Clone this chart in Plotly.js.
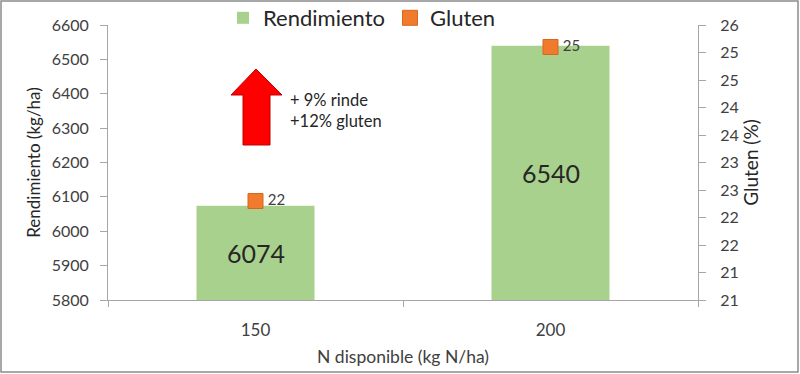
<!DOCTYPE html>
<html><head><meta charset="utf-8">
<script src="https://cdn.plot.ly/plotly-3.0.1.min.js"></script>
<style>html,body{margin:0;padding:0;background:#fff}#c{width:800px;height:374px}</style>
</head><body><div id="c"></div>
<script>
const categories = ['150', '200'];
const rendimiento = [6074, 6540];
const gluten = [22.3, 25.1];
const glutenLabels = ['22', '25'];
const glutenTickVals = [20.5, 21, 21.5, 22, 22.5, 23, 23.5, 24, 24.5, 25, 25.5];
const glutenTickText = ['21', '21', '22', '22', '23', '23', '24', '24', '25', '25', '26'];
const leftTickVals = [5800, 5900, 6000, 6100, 6200, 6300, 6400, 6500, 6600];
const noteLines = ['+ 9% rinde', '+12% gluten'];

const F = 'Lato, "Open Sans", sans-serif';
const TXT = '#404040';
const Y0 = 5800, Y1 = 6600;

const L = 108, R = 698, T = 25, B = 300;
const px = x => (x - L) / (R - L);
const py = y => (B - y) / (B - T);

const traces = [
  {
    type: 'bar', name: 'Rendimiento', x: categories, y: rendimiento,
    marker: {color: '#A9D18E'},
    hoverinfo: 'none'
  },
  {
    type: 'scatter', mode: 'markers+text', name: 'Gluten', x: categories, y: gluten,
    yaxis: 'y2',
    marker: {symbol: 'square', size: 15, color: '#F07B2C', line: {color: '#D9661E', width: 1}},
    text: glutenLabels.map(t => '\u2009' + t), textposition: 'middle right',
    textfont: {family: F, size: 15, color: '#404040'},
    hoverinfo: 'none'
  }
];

const arrowPath = [
  [px(256), py(69)], [px(282), py(95)], [px(270), py(95)], [px(270), py(145)],
  [px(243), py(145)], [px(243), py(95)], [px(231), py(95)]
].map((p, i) => (i ? 'L' : 'M') + p[0] + ',' + p[1]).join(' ') + ' Z';

const barLabels = categories.map((c, i) => ({
  x: i, y: (Y0 + rendimiento[i]) / 2, xref: 'x', yref: 'y', showarrow: false,
  text: String(rendimiento[i]), font: {family: F, size: 25, color: '#262626'}
}));

const layout = {
  width: 800, height: 374,
  margin: {l: L, r: 800 - R, t: T, b: 374 - B, autoexpand: false},
  paper_bgcolor: '#fff', plot_bgcolor: '#fff',
  font: {family: F, color: TXT, size: 15},
  showlegend: true,
  legend: {orientation: 'h', x: px(362), xanchor: 'center', y: py(18), yanchor: 'middle',
           font: {family: F, size: 22, color: '#262626'}, itemwidth: 30, tracegroupgap: 0,
           bgcolor: 'rgba(0,0,0,0)'},
  bargap: 0.6,
  xaxis: {
    type: 'category', categoryorder: 'array', categoryarray: categories,
    range: [-0.5, categories.length - 0.5], autorange: false,
    showline: true, linecolor: '#A6A6A6', linewidth: 1,
    ticks: 'outside', ticklen: 6, tickcolor: '#A6A6A6', tickson: 'boundaries',
    ticklabelstandoff: 15, tickangle: 0,
    tickfont: {family: F, size: 17, color: TXT},
    showgrid: false, zeroline: false,
    title: {text: 'N disponible (kg N/ha)', font: {family: F, size: 17.5, color: TXT}, standoff: 11}
  },
  yaxis: {
    range: [Y0, Y1], tickvals: leftTickVals,
    showline: true, linecolor: '#A6A6A6', linewidth: 1,
    ticks: 'outside', ticklen: 7, tickcolor: '#A6A6A6', ticklabelstandoff: 8,
    tickfont: {family: F, size: 16, color: TXT},
    showgrid: false, zeroline: false,
    title: {text: 'Rendimiento (kg/ha)', font: {family: F, size: 17, color: '#262626'}, standoff: 6}
  },
  yaxis2: {
    overlaying: 'y', side: 'right', range: [20.5, 25.5],
    tickvals: glutenTickVals, ticktext: glutenTickText,
    showline: true, linecolor: '#A6A6A6', linewidth: 1,
    ticks: 'outside', ticklen: 7, tickcolor: '#A6A6A6', ticklabelstandoff: 11,
    tickfont: {family: F, size: 16, color: TXT},
    showgrid: false, zeroline: false,
    title: {text: 'Gluten (%)', font: {family: F, size: 19, color: '#262626'}, standoff: 6}
  },
  shapes: [
    {type: 'path', xref: 'paper', yref: 'paper', path: arrowPath,
     fillcolor: '#FF0000', line: {color: '#C00000', width: 1}},
    {type: 'rect', xref: 'paper', yref: 'paper', x0: px(1), x1: px(798), y0: py(1), y1: py(372),
     line: {color: '#8C8C8C', width: 1.5}, fillcolor: 'rgba(0,0,0,0)'}
  ],
  annotations: barLabels.concat([
    {xref: 'paper', yref: 'paper', x: px(288), y: py(110), xanchor: 'left', yanchor: 'middle',
     align: 'left', showarrow: false, text: noteLines.join('<br>'),
     font: {family: F, size: 16.5, color: '#262626'}}
  ])
};

Plotly.newPlot('c', traces, layout, {displayModeBar: false, staticPlot: true});
</script></body></html>
